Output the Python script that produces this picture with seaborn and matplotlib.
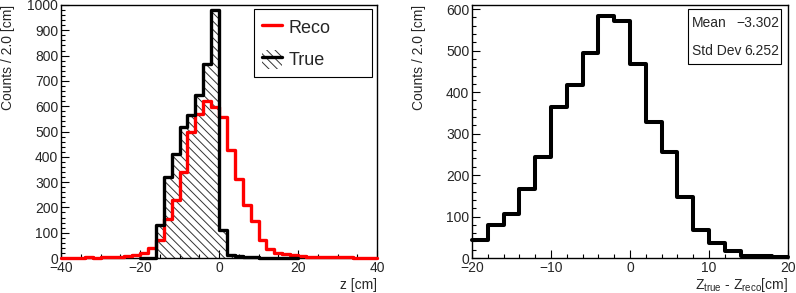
import numpy as np
import pandas as pd
import matplotlib
matplotlib.use("Agg")
import matplotlib.pyplot as plt
from matplotlib.lines import Line2D
from matplotlib.patches import Patch, Rectangle
from matplotlib.ticker import MultipleLocator
from matplotlib.transforms import ScaledTranslation
import seaborn as sns

sns.set_style("ticks")
plt.rcParams['font.family'] = ['Liberation Sans', 'DejaVu Sans']
plt.rcParams['mathtext.fontset'] = 'custom'
plt.rcParams['mathtext.rm'] = 'Liberation Sans'
plt.rcParams['hatch.color'] = '#333333'
plt.rcParams['hatch.linewidth'] = 0.7

# Reconstructed z, 2 cm bins from -40 to 40
reco_bins = np.arange(-39, 40, 2)
reco_counts = [1, 1, 1, 2, 1, 2, 3, 3, 6, 12,
               20, 38, 70, 155, 228, 340, 500, 571, 620, 595,
               558, 426, 314, 208, 145, 73, 34, 21, 14, 10,
               7, 5, 4, 3, 3, 2, 2, 1, 1, 1]

# True z, 2 cm bins from -20 to 20
true_bins = np.arange(-19, 20, 2)
true_counts = [0, 0, 129, 320, 413, 516, 565, 646, 765, 980,
               110, 12, 6, 3, 2, 1, 1, 1, 1, 1]

# z_true - z_reco, 2 cm bins from -20 to 20
diff_bins = np.arange(-19, 20, 2)
diff_counts = [44, 80, 105, 167, 244, 364, 417, 495, 584, 571,
               467, 327, 256, 147, 67, 37, 18, 6, 5, 2]

diff_mean = "\u22123.302"
diff_std = "6.252"

reco_df = pd.DataFrame({"z": reco_bins, "n": reco_counts})
true_df = pd.DataFrame({"z": true_bins, "n": true_counts})
diff_df = pd.DataFrame({"z": diff_bins, "n": diff_counts})

fig = plt.figure(figsize=(7.96, 2.93), dpi=100)
ax1 = fig.add_axes([61 / 796, 1 - 258 / 293, 316 / 796, 253 / 293])
ax2 = fig.add_axes([472 / 796, 1 - 258 / 293, 316 / 796, 253 / 293])

# left panel: true (hatched) and reco
sns.histplot(data=true_df, x="z", weights="n", binwidth=2, binrange=(-20, 20),
             element="step", fill=True, color="black", facecolor="none",
             edgecolor="#333333", hatch="\\\\\\\\", linewidth=0, ax=ax1)
sns.histplot(data=reco_df, x="z", weights="n", binwidth=2, binrange=(-40, 40),
             element="step", fill=False, color="red", linewidth=2.4, ax=ax1,
             zorder=3, clip_on=False)
sns.histplot(data=true_df, x="z", weights="n", binwidth=2, binrange=(-20, 20),
             element="step", fill=False, color="black", linewidth=2.4, ax=ax1,
             zorder=4, clip_on=False)

# right panel: difference
sns.histplot(data=diff_df, x="z", weights="n", binwidth=2, binrange=(-20, 20),
             element="step", fill=False, color="black", linewidth=2.9, ax=ax2,
             zorder=3, clip_on=False)

ax1.set_xlim(-40, 40)
ax1.set_ylim(0, 1000)
ax2.set_xlim(-20, 20)
ax2.set_ylim(0, 610)

ax1.xaxis.set_major_locator(MultipleLocator(20))
ax1.xaxis.set_minor_locator(MultipleLocator(5))
ax1.yaxis.set_major_locator(MultipleLocator(100))
ax1.yaxis.set_minor_locator(MultipleLocator(20))
ax2.xaxis.set_major_locator(MultipleLocator(10))
ax2.xaxis.set_minor_locator(MultipleLocator(2))
ax2.yaxis.set_major_locator(MultipleLocator(100))
ax2.yaxis.set_minor_locator(MultipleLocator(20))

for ax in (ax1, ax2):
    ax.tick_params(which="both", direction="in", top=False, right=False,
                   labelsize=10, color="black", pad=2)
    ax.tick_params(which="major", length=6, width=0.8)
    ax.tick_params(which="minor", length=3, width=0.8)
    for s in ax.spines.values():
        s.set_linewidth(1.0)
        s.set_color("black")
    ax.set_ylabel("Counts / 2.0 [cm]", fontsize=10, loc="top")
    ax.yaxis.set_label_coords(-0.169, 1.0)
    ax.yaxis.label.set_va("center")

ax1.set_xlabel("z [cm]", fontsize=10, loc="right")
ax1.xaxis.set_label_coords(1.0, -0.105)
ax1.xaxis.label.set_va("center")
ax2.set_xlabel(r"Z$_{\mathrm{true}}$ - Z$_{\mathrm{reco}}$[cm]", fontsize=10, loc="right")
ax2.xaxis.set_label_coords(1.0, -0.105)
ax2.xaxis.label.set_va("center")

# legend
true_handle = (Patch(facecolor="none", edgecolor="#333333", hatch="\\\\\\\\", linewidth=0),
               Line2D([0], [0], color="black", linewidth=2.4))
reco_handle = Line2D([0], [0], color="red", linewidth=2.4)
leg = ax1.legend([reco_handle, true_handle], ["Reco", "True"],
                 loc="upper left", bbox_to_anchor=(0.611, 0.723, 0.373, 0.261),
                 mode="expand", fontsize=13, frameon=True, fancybox=False,
                 edgecolor="black", framealpha=1, handlelength=1.1,
                 handleheight=1.3, handletextpad=0.4, labelspacing=0.72,
                 borderpad=0.42, borderaxespad=0)
leg.get_frame().set_linewidth(0.8)

# stats box
ax2.add_patch(Rectangle((0.684, 0.767), 0.294, 0.219, transform=ax2.transAxes,
                        facecolor="white", edgecolor="black", linewidth=0.8, zorder=5))
ax2.text(0.697, 0.929, "Mean", transform=ax2.transAxes, fontsize=10,
         va="center", ha="left", zorder=6)
ax2.text(0.972, 0.929, diff_mean, transform=ax2.transAxes, fontsize=10,
         va="center", ha="right", zorder=6)
ax2.text(0.697, 0.818, "Std Dev", transform=ax2.transAxes, fontsize=10,
         va="center", ha="left", zorder=6)
ax2.text(0.972, 0.818, diff_std, transform=ax2.transAxes, fontsize=10,
         va="center", ha="right", zorder=6)

# lift the "0" y tick label a touch so it clears the x tick labels
fig.canvas.draw()
for ax in (ax1, ax2):
    t0 = ax.yaxis.get_major_ticks()[0]
    t0.label1.set_transform(t0.label1.get_transform()
                            + ScaledTranslation(0, 0.03, fig.dpi_scale_trans))

fig.savefig("out.png", dpi=100)
